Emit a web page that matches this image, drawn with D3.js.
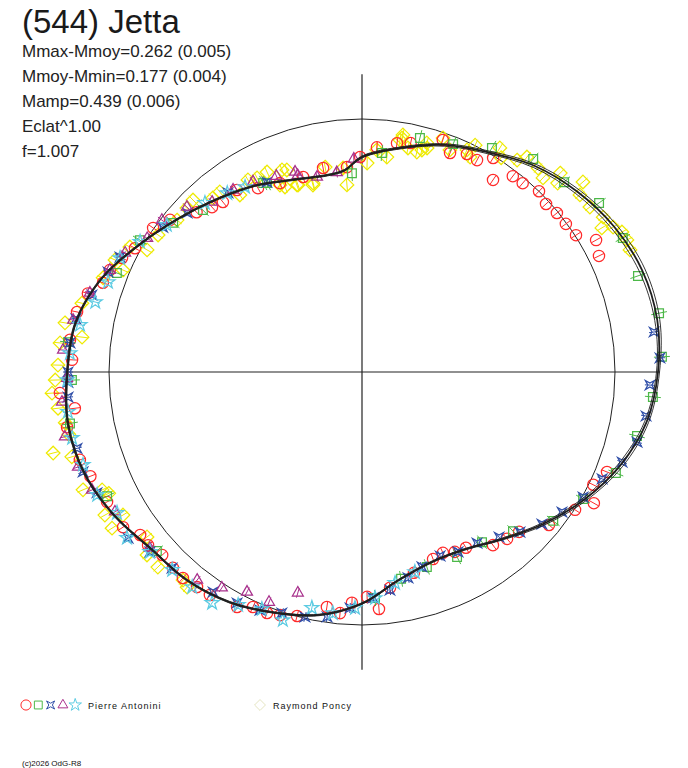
<!DOCTYPE html>
<html>
<head>
  <meta charset="UTF-8">
  <title>(544) Jetta</title>
  <style>
    body { margin: 0; background: #fff; }
    svg { display: block; font-family: "Liberation Sans", Arial, sans-serif; }
  </style>
</head>
<body>
  <div class="svg-zone"></div>
  <script src="https://cdn.jsdelivr.net/npm/d3@7/dist/d3.min.js"></script>
  <script type="text/javascript">
  // text block
  var title = "(544) Jetta";
  var infoLines = ["Mmax-Mmoy=0.262 (0.005)", "Mmoy-Mmin=0.177 (0.004)", "Mamp=0.439 (0.006)", "Eclat^1.00", "f=1.007"];
  var mmoyMin = 0.177;   // brightest excursion, sets the axis length
  var footer = "(c)2026 OdG-R8";

  // fitted curve: phase (deg, clockwise from top) and relative flux
  var curvePhase = [0, 10, 20, 30, 40, 50, 60, 70, 80, 90, 100, 110, 120, 130, 140, 150, 160, 170, 180,
    190, 200, 210, 220, 230, 240, 250, 260, 270, 280, 290, 300, 310, 320, 330, 340, 350, 355];
  var curveFlux = [0.850, 0.900, 0.955, 1.002, 1.063, 1.110, 1.150, 1.178, 1.185, 1.170, 1.142, 1.085, 1.012, 0.935, 0.862, 0.810, 0.800, 0.835, 0.915,
    0.975, 1.012, 1.050, 1.075, 1.088, 1.132, 1.168, 1.180, 1.165, 1.148, 1.092, 1.012, 0.945, 0.892, 0.850, 0.808, 0.790, 0.800];
  var curveSig = [0.004, 0.004, 0.005, 0.006, 0.008, 0.010, 0.012, 0.012, 0.010, 0.006, 0.008, 0.010, 0.008, 0.006, 0.004, 0.003, 0.003, 0.003, 0.003,
    0.003, 0.003, 0.003, 0.003, 0.003, 0.003, 0.003, 0.003, 0.003, 0.003, 0.003, 0.003, 0.003, 0.003, 0.003, 0.003, 0.003, 0.003];

  // observations [phase deg, relative flux]
  var antonini1 = [[34.3,.919],[37.6,.977],[40.4,.980],[44.4,1.000],[47.6,.985],[50.8,.994],[54.0,.996],[57.4,1.004],[60.6,1.062],[63.9,1.043],
    [21.9,.933],[25.7,.956],[28.5,.953],[31.5,.992],[359.5,.850],[3.8,.890],[8.7,.915],[12.0,.925],[19.2,.971],
    [175.9,.939],[178.7,.889],[182.5,.913],[185.2,.957],[165.5,.820],[159.2,.791],[155.9,.783],[152.7,.800],[149.4,.807],[142.9,.858],
    [139.0,.874],[135.5,.886],[129.3,.955],[122.9,1.003],[119.5,1.053],[116.0,1.017],[112.2,1.046],[172.6,.860],
    [188.5,.939],[194.9,.998],[198.6,1.014],[201.5,1.024],[204.9,1.024],[208.0,1.052],[214.3,1.067],[217.5,1.071],[221.0,1.079],
    [224.0,1.076],[227.5,1.071],[231.0,1.088],[233.7,1.088],[237.0,1.126],[243.0,1.131],[249.0,1.150],[252.7,1.168],[262.8,1.144],
    [259.4,1.186],[266.0,1.197],[272.4,1.147],[276.3,1.161],[281.9,1.151],[286.0,1.127],[289.0,1.083],[292.0,1.075],[295.4,1.050],
    [298.6,1.022],[304.6,1.003],[308.4,.968],[314.0,.909],[317.7,.881],[320.7,.868],[325.5,.873],[330.5,.835],[336.5,.814],
    [343.2,.805],[349.2,.821],[355.8,.812]];
  var antonini2 = [[5.2,.869],[13.9,.953],[357.1,.787],[332.4,.843],[21.8,.970],[30.1,1.024],[38.8,1.080],[46.8,1.096],[54.5,1.151],
    [62.8,1.159],[70.8,1.155],[78.8,1.197],[87.1,1.187],[94.9,1.154],[103.1,1.116],[111.7,1.080],[119.9,1.008],[127.9,.958],
    [136.5,.867],[144.8,.823],[152.8,.822],[161.6,.812],[169.3,.832],[176.7,.895],[260.0,1.172],[244.0,1.121],[228.9,1.076],
    [268.4,1.147],[292.0,1.045],[300.7,1.021],[308.3,.951],[315.5,.897],[333.3,.836],[275.8,1.168]];
  var antonini3 = [[82.2,1.165],[87.3,1.179],[92.6,1.139],[98.8,1.136],[104.3,1.122],[109.1,1.088],[114.0,1.039],[119.5,1.004],
    [125.0,.965],[130.2,.931],[135.4,.889],[140.3,.848],[146.1,.815],[151.9,.806],[157.0,.790],[162.9,.806],[167.4,.834],[172.7,.869],
    [177.2,.894],[182.9,.934],[188.1,.978],[193.1,.994],[198.4,1.004],[203.2,1.024],[208.4,1.038],[214.1,1.050],[224.1,1.079],
    [229.7,1.099],[234.6,1.134],[245.5,1.151],[250.3,1.171],[255.0,1.166],[265.1,1.166],[268.0,1.163],[270.0,1.162],[275.7,1.160],
    [280.5,1.150],[285.9,1.110],[291.5,1.079],[295.4,1.059],[306.0,.973],[312.3,.934],[323.2,.884],[333.4,.839]];
  var antonini4 = [[336.4,.845],[341.9,.818],[347.0,.791],[352.8,.795],[357.8,.843],[330.2,.867],[341.5,.834],[324.7,.882],[318.6,.896],
    [313.3,.951],[307.2,.993],[301.9,1.000],[296.7,1.048],[292.0,1.075],[286.2,1.120],[280.2,1.160],[274.2,1.185],[268.8,1.166],
    [264.3,1.192],[257.7,1.202],[251.5,1.184],[246.4,1.165],[240.5,1.122],[230.3,1.090],[218.4,1.049],[213.0,1.017],[207.6,.981],
    [202.0,.981],[196.2,.909]];
  var antonini5 = [[262.3,1.173],[257.2,1.175],[251.6,1.162],[245.1,1.154],[240.1,1.117],[234.8,1.137],[229.7,1.099],[223.8,1.084],
    [218.3,1.083],[213.0,1.088],[208.0,1.043],[202.9,1.017],[197.7,1.029],[192.0,.953],[186.9,.960],[181.7,.933],[176.7,.895],
    [171.1,.844],[165.2,.818],[273.7,1.157],[268.4,1.166],[279.5,1.130],[284.7,1.090],[289.5,1.065],[295.2,1.057],[300.4,1.017],
    [307.0,.966],[317.1,.912],[323.0,.885],[327.7,.865]];
  var poncy = [[9.3,.929],[11.6,.904],[15.1,.909],[15.8,.941],[19.1,.979],[21.6,.944],[25.3,.971],[26.5,1.002],[26.7,.951],[31.6,1.040],
    [33.0,1.010],[36.2,1.038],[37.5,1.071],[40.8,1.065],[43.0,1.049],[44.9,1.110],[46.0,1.075],[49.3,1.152],[50.9,1.110],[54.1,1.112],
    [57.3,1.133],[59.0,1.106],[60.0,1.146],[61.7,1.167],[63.5,1.170],[65.5,1.164],[9.8,.951],
    [1.4,.826],[3.8,.880],[6.6,.855],[9.7,.938],[14.0,.896],[16.2,.922],[355.4,.742],[354.7,.810],[349.8,.823],[345.3,.764],
    [341.1,.781],[337.4,.792],[338.4,.859],[334.6,.875],[331.6,.872],[339.6,.852],[336.3,.807],[340.8,.783],[345.5,.771],
    [329.3,.883],[325.4,.850],[321.7,.907],[319.4,.906],[315.5,.953],[313.1,.948],[309.4,.946],[303.9,.971],[299.6,.977],
    [298.3,1.042],[294.4,1.072],[293.1,1.027],[290.0,1.089],[283.8,1.140],[277.1,1.115],[279.4,1.190],[275.5,1.199],[271.3,1.202],
    [268.5,1.213],[266.1,1.228],[263.2,1.210],[260.3,1.190],[258.0,1.185],[255.3,1.262],[253.7,1.195],[247.1,1.197],[245.6,1.128],
    [244.4,1.110],[240.9,1.163],[238.0,1.165],[239.1,1.101],[232.5,1.071],[229.6,1.116],[226.3,1.116],[220.7,1.085],[219.1,1.096]];

  var width = 688, height = 768;
  var cx = 362, cy = 372, R = 253;

  var svg = d3.select(".svg-zone").append("svg")
    .attr("width", width)
    .attr("height", height);

  var r = d3.scaleLinear().domain([0, 1]).range([0, R]);
  var rad = function (deg) { return deg * Math.PI / 180; };

  var shapes = {
    circle: d3.symbol().type(d3.symbolCircle).size(100)(),
    square: d3.symbol().type(d3.symbolSquare).size(76)(),
    bowtie: "M-4.5,-4.5L0,-2L4.5,-4.5L2,0L4.5,4.5L0,2L-4.5,4.5L-2,0Z",
    triangle: d3.symbol().type(d3.symbolTriangle).size(52)(),
    star: d3.symbol().type(d3.symbolStar).size(60)(),
    diamond: "M0,-6.8L6.8,0L0,6.8L-6.8,0Z"
  };

  // drawing order: Poncy first, Antonini sessions over it
  var series = [
    { data: poncy, shape: "diamond", color: "#eeea00", tick: 6 },
    { data: antonini1, shape: "circle", color: "#ff2a2a", tick: 5.5 },
    { data: antonini2, shape: "square", color: "#4cb848", tick: 8 },
    { data: antonini3, shape: "bowtie", color: "#2f4ea8", tick: 5 },
    { data: antonini4, shape: "triangle", color: "#a8308c", tick: 5 },
    { data: antonini5, shape: "star", color: "#5ccbe2", tick: 5 }
  ];

  var plot = svg.append("g").attr("transform", "translate(" + cx + "," + cy + ")");

  // axes, half-length = brightest relative flux
  var axisLen = r(Math.pow(10, 0.4 * mmoyMin));
  plot.append("line").attr("x1", -axisLen).attr("x2", axisLen).attr("y1", 0).attr("y2", 0)
    .attr("stroke", "#222").attr("stroke-width", 1.2);
  plot.append("line").attr("y1", -axisLen).attr("y2", axisLen).attr("x1", 0).attr("x2", 0)
    .attr("stroke", "#222").attr("stroke-width", 1.2);
  plot.append("circle").attr("r", r(1)).attr("fill", "none")
    .attr("stroke", "#222").attr("stroke-width", 1);

  series.forEach(function (s) {
    var g = plot.append("g");
    var pts = g.selectAll(".pt").data(s.data).enter().append("g")
      .attr("class", "pt");
    pts.append("line")
      .attr("x1", function (d) { return d3.pointRadial(rad(d[0]), r(d[1]) - s.tick)[0]; })
      .attr("y1", function (d) { return d3.pointRadial(rad(d[0]), r(d[1]) - s.tick)[1]; })
      .attr("x2", function (d) { return d3.pointRadial(rad(d[0]), r(d[1]) + s.tick)[0]; })
      .attr("y2", function (d) { return d3.pointRadial(rad(d[0]), r(d[1]) + s.tick)[1]; })
      .attr("stroke", s.color).attr("stroke-width", 1);
    pts.append("path")
      .attr("d", shapes[s.shape])
      .attr("transform", function (d) {
        var p = d3.pointRadial(rad(d[0]), r(d[1]));
        return "translate(" + p[0] + "," + p[1] + ")";
      })
      .attr("fill", "none").attr("stroke", s.color).attr("stroke-width", 1.25);
  });

  // fit and its envelope
  var curve = curvePhase.map(function (p, i) { return [p, curveFlux[i], curveSig[i]]; });
  [-1, 0, 1].forEach(function (k) {
    var line = d3.lineRadial()
      .angle(function (d) { return rad(d[0]); })
      .radius(function (d) { return r(d[1] + k * d[2]); })
      .curve(d3.curveCatmullRomClosed);
    plot.append("path").datum(curve)
      .attr("d", line)
      .attr("fill", "none")
      .attr("stroke", "#1e1e1e")
      .attr("stroke-width", k === 0 ? 1.8 : 0.9);
  });

  // header text
  svg.append("text").attr("x", 22).attr("y", 32.5)
    .attr("font-size", 33).attr("fill", "#1a1a1a").text(title);
  svg.selectAll(".info").data(infoLines).enter().append("text")
    .attr("class", "info")
    .attr("x", 22).attr("y", function (d, i) { return 57 + i * 25; })
    .attr("font-size", 17).attr("fill", "#222")
    .text(function (d) { return d; });

  // legend
  var legend = svg.append("g").attr("transform", "translate(0,705)");
  var antoniniKeys = series.slice(1);
  legend.selectAll(".key").data(antoniniKeys).enter().append("path")
    .attr("class", "key")
    .attr("d", function (d) { return shapes[d.shape]; })
    .attr("transform", function (d, i) { return "translate(" + (26 + i * 12.3) + ",0) scale(0.9)"; })
    .attr("fill", "none").attr("stroke", function (d) { return d.color; }).attr("stroke-width", 1.1);
  legend.append("text").attr("x", 88).attr("y", 4)
    .attr("font-size", 9).attr("letter-spacing", 1).attr("fill", "#111").text("Pierre Antonini");
  legend.append("path").attr("d", shapes[series[0].shape])
    .attr("transform", "translate(260,0) scale(0.8)")
    .attr("fill", "none").attr("stroke", "#e0e0b8").attr("stroke-width", 1.1);
  legend.append("text").attr("x", 273).attr("y", 4)
    .attr("font-size", 9).attr("letter-spacing", 1).attr("fill", "#111").text("Raymond Poncy");

  svg.append("text").attr("x", 22).attr("y", 766)
    .attr("font-size", 8).attr("fill", "#111").text(footer);
  </script>
</body>
</html>
